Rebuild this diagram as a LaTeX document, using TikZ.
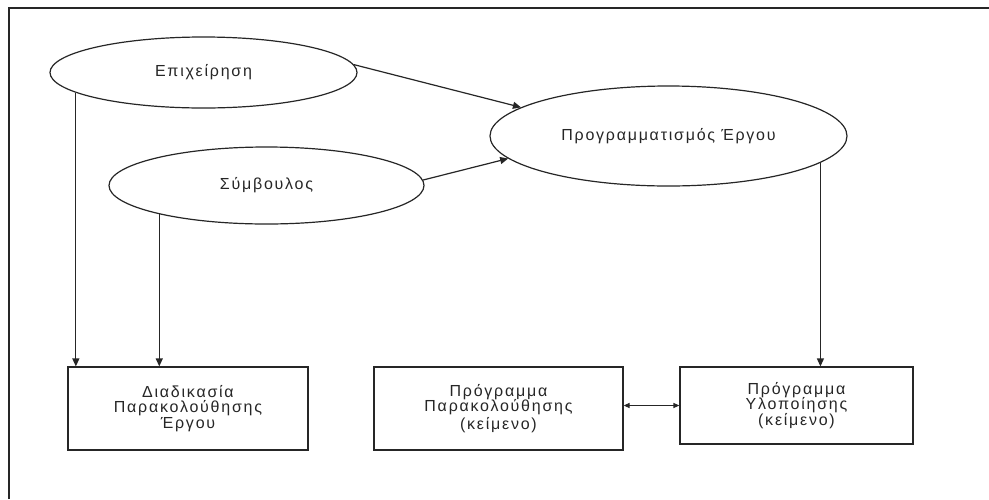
\documentclass[tikz,border=0pt]{standalone}
\usepackage{fontspec}
\newfontfamily\diagfont[LetterSpace=11]{Liberation Sans}
\usetikzlibrary{shapes.geometric,arrows.meta}
\begin{document}
\begin{tikzpicture}[x=1pt,y=-1pt,
  ink/.style={draw=black!85,line width=1.2pt},
  txt/.style={font=\diagfont\fontsize{16}{15.5}\selectfont,text=black!85},
  oval/.style={ink,txt,ellipse,inner sep=0pt},
  boxnode/.style={ink,txt,rectangle,inner sep=0pt,align=center},
  arr/.style={ink,-{Triangle[length=8pt,width=7pt]}},
  darr/.style={ink,{Triangle[length=6pt,width=5pt]}-{Triangle[length=6pt,width=5pt]}}]
\useasboundingbox (0,0) rectangle (989,499);
\fill[white] (0,0) rectangle (989,499);
% page frame (left and top edges)
\draw[ink] (9,499) -- (9,8) -- (989,8);

% actors and planning
\node[oval,minimum width=307pt,minimum height=71pt] (ep) at (203.5,72.5) {Επιχείρηση};
\node[oval,minimum width=315pt,minimum height=77pt] (sb) at (266.5,185.5) {Σύμβουλος};
\node[oval,minimum width=357pt,minimum height=100pt] (pg) at (668.5,136) {Προγραμματισμός Έργου};

% documents
\node[boxnode,minimum width=240pt,minimum height=83pt] (mon) at (188,408.5)
  {Διαδικασία\\Παρακολούθησης\\Έργου};
\node[boxnode,minimum width=249pt,minimum height=83pt] (mp) at (498.5,408.5)
  {Πρόγραμμα\\Παρακολούθησης\\[2.5pt](κείμενο)};
\node[boxnode,minimum width=233pt,minimum height=77pt] (ip) at (796.5,405.5)
  {Πρόγραμμα\\Υλοποίησης\\[0.5pt](κείμενο)};

% connectors
\draw[arr] (ep.189) -- (ep.189 |- mon.north);
\draw[arr] (sb.195) -- (sb.195 |- mon.north);
\draw[arr] (pg.350) -- (pg.350 |- ip.north);
\draw[arr] (ep.3) -- (pg.169);
\draw[arr] (sb.2) -- (pg.188);
\draw[darr] (mp.east |- ip.west) -- (ip.west);
\end{tikzpicture}
\end{document}
